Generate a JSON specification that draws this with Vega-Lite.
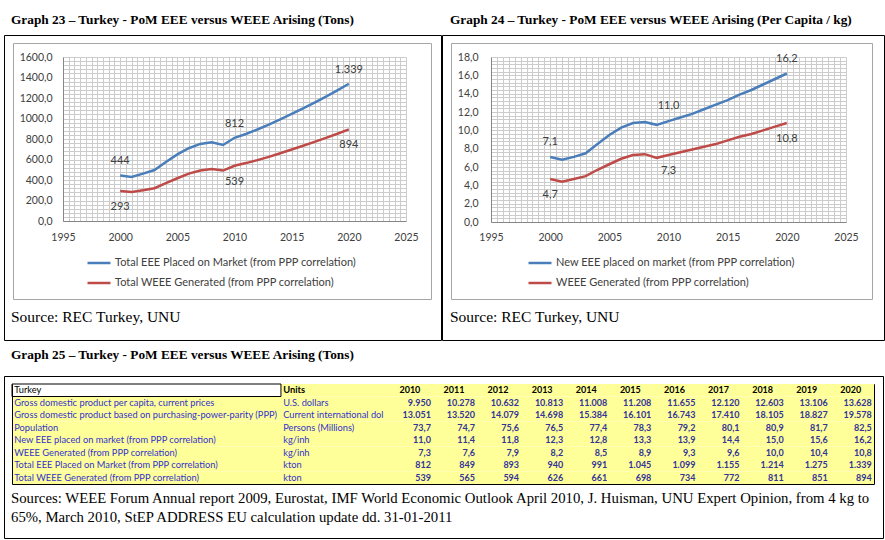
{
  "$schema": "https://vega.github.io/schema/vega-lite/v6.json",
  "background": "white",
  "padding": 3,
  "spacing": -1,
  "bounds": "full",
  "resolve": {"scale": {"color": "independent"}, "legend": {"color": "independent"}},
  "config": {
    "view": {"stroke": "#000000", "strokeWidth": 1},
    "font": "Lato",
    "locale": {"number": {"decimal": ",", "thousands": ".", "grouping": [3], "currency": ["", ""]}},
    "title": {"font": "Liberation Serif", "color": "#000000", "anchor": "start", "frame": "group", "orient": "bottom"},
    "axis": {"labelFont": "Lato", "labelColor": "#404040", "labelFontSize": 10.5, "ticks": false, "labelOverlap": false, "labelFlush": false, "labelBound": false}
  },
  "datasets": {
    "tons": [
      {"year": 2000, "eee": 444, "weee": 293},
      {"year": 2001, "eee": 430, "weee": 282},
      {"year": 2002, "eee": 462, "weee": 300},
      {"year": 2003, "eee": 497, "weee": 320},
      {"year": 2004, "eee": 575, "weee": 370},
      {"year": 2005, "eee": 650, "weee": 417},
      {"year": 2006, "eee": 710, "weee": 462},
      {"year": 2007, "eee": 752, "weee": 492},
      {"year": 2008, "eee": 768, "weee": 507},
      {"year": 2009, "eee": 742, "weee": 492},
      {"year": 2010, "eee": 812, "weee": 539},
      {"year": 2011, "eee": 849, "weee": 565},
      {"year": 2012, "eee": 893, "weee": 594},
      {"year": 2013, "eee": 940, "weee": 626},
      {"year": 2014, "eee": 991, "weee": 661},
      {"year": 2015, "eee": 1045, "weee": 698},
      {"year": 2016, "eee": 1099, "weee": 734},
      {"year": 2017, "eee": 1155, "weee": 772},
      {"year": 2018, "eee": 1214, "weee": 811},
      {"year": 2019, "eee": 1275, "weee": 851},
      {"year": 2020, "eee": 1339, "weee": 894}
    ],
    "percap": [
      {"year": 2000, "eee": 7.1, "weee": 4.7},
      {"year": 2001, "eee": 6.8, "weee": 4.4},
      {"year": 2002, "eee": 7.1, "weee": 4.7},
      {"year": 2003, "eee": 7.5, "weee": 5.0},
      {"year": 2004, "eee": 8.5, "weee": 5.7},
      {"year": 2005, "eee": 9.5, "weee": 6.3},
      {"year": 2006, "eee": 10.3, "weee": 6.9},
      {"year": 2007, "eee": 10.8, "weee": 7.3},
      {"year": 2008, "eee": 10.9, "weee": 7.4},
      {"year": 2009, "eee": 10.6, "weee": 7.0},
      {"year": 2010, "eee": 11.0, "weee": 7.3},
      {"year": 2011, "eee": 11.4, "weee": 7.6},
      {"year": 2012, "eee": 11.8, "weee": 7.9},
      {"year": 2013, "eee": 12.3, "weee": 8.2},
      {"year": 2014, "eee": 12.8, "weee": 8.5},
      {"year": 2015, "eee": 13.3, "weee": 8.9},
      {"year": 2016, "eee": 13.9, "weee": 9.3},
      {"year": 2017, "eee": 14.4, "weee": 9.6},
      {"year": 2018, "eee": 15.0, "weee": 10.0},
      {"year": 2019, "eee": 15.6, "weee": 10.4},
      {"year": 2020, "eee": 16.2, "weee": 10.8}
    ],
    "rows": [
      {"key": "T", "indicator": "Turkey", "unit": "Units"},
      {"key": "GDPPC", "indicator": "Gross domestic product per capita, current prices", "unit": "U.S. dollars"},
      {"key": "GDPPPP", "indicator": "Gross domestic product based on purchasing-power-parity (PPP)", "unit": "Current international dol"},
      {"key": "POP", "indicator": "Population", "unit": "Persons (Millions)"},
      {"key": "NEEE", "indicator": "New EEE placed on market (from PPP correlation)", "unit": "kg/inh"},
      {"key": "WEEE", "indicator": "WEEE Generated (from PPP correlation)", "unit": "kg/inh"},
      {"key": "TEEE", "indicator": "Total EEE Placed on Market (from PPP correlation)", "unit": "kton"},
      {"key": "TWEEE", "indicator": "Total WEEE Generated (from PPP correlation)", "unit": "kton"}
    ],
    "cells": [
      {"key": "T", "year": 2010, "value": "2010"}, {"key": "T", "year": 2011, "value": "2011"}, {"key": "T", "year": 2012, "value": "2012"}, {"key": "T", "year": 2013, "value": "2013"}, {"key": "T", "year": 2014, "value": "2014"}, {"key": "T", "year": 2015, "value": "2015"}, {"key": "T", "year": 2016, "value": "2016"}, {"key": "T", "year": 2017, "value": "2017"}, {"key": "T", "year": 2018, "value": "2018"}, {"key": "T", "year": 2019, "value": "2019"}, {"key": "T", "year": 2020, "value": "2020"},
      {"key": "GDPPC", "year": 2010, "value": "9.950"}, {"key": "GDPPC", "year": 2011, "value": "10.278"}, {"key": "GDPPC", "year": 2012, "value": "10.632"}, {"key": "GDPPC", "year": 2013, "value": "10.813"}, {"key": "GDPPC", "year": 2014, "value": "11.008"}, {"key": "GDPPC", "year": 2015, "value": "11.208"}, {"key": "GDPPC", "year": 2016, "value": "11.655"}, {"key": "GDPPC", "year": 2017, "value": "12.120"}, {"key": "GDPPC", "year": 2018, "value": "12.603"}, {"key": "GDPPC", "year": 2019, "value": "13.106"}, {"key": "GDPPC", "year": 2020, "value": "13.628"},
      {"key": "GDPPPP", "year": 2010, "value": "13.051"}, {"key": "GDPPPP", "year": 2011, "value": "13.520"}, {"key": "GDPPPP", "year": 2012, "value": "14.079"}, {"key": "GDPPPP", "year": 2013, "value": "14.698"}, {"key": "GDPPPP", "year": 2014, "value": "15.384"}, {"key": "GDPPPP", "year": 2015, "value": "16.101"}, {"key": "GDPPPP", "year": 2016, "value": "16.743"}, {"key": "GDPPPP", "year": 2017, "value": "17.410"}, {"key": "GDPPPP", "year": 2018, "value": "18.105"}, {"key": "GDPPPP", "year": 2019, "value": "18.827"}, {"key": "GDPPPP", "year": 2020, "value": "19.578"},
      {"key": "POP", "year": 2010, "value": "73,7"}, {"key": "POP", "year": 2011, "value": "74,7"}, {"key": "POP", "year": 2012, "value": "75,6"}, {"key": "POP", "year": 2013, "value": "76,5"}, {"key": "POP", "year": 2014, "value": "77,4"}, {"key": "POP", "year": 2015, "value": "78,3"}, {"key": "POP", "year": 2016, "value": "79,2"}, {"key": "POP", "year": 2017, "value": "80,1"}, {"key": "POP", "year": 2018, "value": "80,9"}, {"key": "POP", "year": 2019, "value": "81,7"}, {"key": "POP", "year": 2020, "value": "82,5"},
      {"key": "NEEE", "year": 2010, "value": "11,0"}, {"key": "NEEE", "year": 2011, "value": "11,4"}, {"key": "NEEE", "year": 2012, "value": "11,8"}, {"key": "NEEE", "year": 2013, "value": "12,3"}, {"key": "NEEE", "year": 2014, "value": "12,8"}, {"key": "NEEE", "year": 2015, "value": "13,3"}, {"key": "NEEE", "year": 2016, "value": "13,9"}, {"key": "NEEE", "year": 2017, "value": "14,4"}, {"key": "NEEE", "year": 2018, "value": "15,0"}, {"key": "NEEE", "year": 2019, "value": "15,6"}, {"key": "NEEE", "year": 2020, "value": "16,2"},
      {"key": "WEEE", "year": 2010, "value": "7,3"}, {"key": "WEEE", "year": 2011, "value": "7,6"}, {"key": "WEEE", "year": 2012, "value": "7,9"}, {"key": "WEEE", "year": 2013, "value": "8,2"}, {"key": "WEEE", "year": 2014, "value": "8,5"}, {"key": "WEEE", "year": 2015, "value": "8,9"}, {"key": "WEEE", "year": 2016, "value": "9,3"}, {"key": "WEEE", "year": 2017, "value": "9,6"}, {"key": "WEEE", "year": 2018, "value": "10,0"}, {"key": "WEEE", "year": 2019, "value": "10,4"}, {"key": "WEEE", "year": 2020, "value": "10,8"},
      {"key": "TEEE", "year": 2010, "value": "812"}, {"key": "TEEE", "year": 2011, "value": "849"}, {"key": "TEEE", "year": 2012, "value": "893"}, {"key": "TEEE", "year": 2013, "value": "940"}, {"key": "TEEE", "year": 2014, "value": "991"}, {"key": "TEEE", "year": 2015, "value": "1.045"}, {"key": "TEEE", "year": 2016, "value": "1.099"}, {"key": "TEEE", "year": 2017, "value": "1.155"}, {"key": "TEEE", "year": 2018, "value": "1.214"}, {"key": "TEEE", "year": 2019, "value": "1.275"}, {"key": "TEEE", "year": 2020, "value": "1.339"},
      {"key": "TWEEE", "year": 2010, "value": "539"}, {"key": "TWEEE", "year": 2011, "value": "565"}, {"key": "TWEEE", "year": 2012, "value": "594"}, {"key": "TWEEE", "year": 2013, "value": "626"}, {"key": "TWEEE", "year": 2014, "value": "661"}, {"key": "TWEEE", "year": 2015, "value": "698"}, {"key": "TWEEE", "year": 2016, "value": "734"}, {"key": "TWEEE", "year": 2017, "value": "772"}, {"key": "TWEEE", "year": 2018, "value": "811"}, {"key": "TWEEE", "year": 2019, "value": "851"}, {"key": "TWEEE", "year": 2020, "value": "894"}
    ]
  },
  "vconcat": [
    {
      "spacing": -1,
      "bounds": "full",
      "resolve": {"scale": {"color": "independent"}, "legend": {"color": "independent"}},
      "hconcat": [
        {
          "spacing": -1,
          "bounds": "full",
          "resolve": {"scale": {"color": "independent"}, "legend": {"color": "independent"}},
          "vconcat": [
            {
              "width": 437, "height": 32,
              "data": {"values": []},
              "mark": "rule",
              "encoding": {},
              "title": {"text": "Graph 23 – Turkey - PoM EEE versus WEEE Arising (Tons)", "offset": -22, "dx": 7, "fontSize": 13.3, "fontWeight": "bold"}
            },
            {
              "width": 437, "height": 305,
              "title": {"text": "Source: REC Turkey, UNU", "offset": -30, "dx": 7, "fontSize": 15.5, "fontWeight": "normal"},
              "layer": [
                {
                  "data": {"name": "tons"},
                  "layer": [
                    {
                      "mark": {"type": "line", "strokeWidth": 2.5},
                      "encoding": {
                        "x": {"field": "year", "type": "quantitative",
                          "scale": {"domain": [1995, 2025], "range": [59, 402], "nice": false, "zero": false},
                          "axis": {"orient": "top", "offset": -186, "values": [1995,1995.5,1996,1996.5,1997,1997.5,1998,1998.5,1999,1999.5,2000,2000.5,2001,2001.5,2002,2002.5,2003,2003.5,2004,2004.5,2005,2005.5,2006,2006.5,2007,2007.5,2008,2008.5,2009,2009.5,2010,2010.5,2011,2011.5,2012,2012.5,2013,2013.5,2014,2014.5,2015,2015.5,2016,2016.5,2017,2017.5,2018,2018.5,2019,2019.5,2020,2020.5,2021,2021.5,2022,2022.5,2023,2023.5,2024,2024.5,2025], "grid": true, "gridColor": "#cccccc", "domain": false, "labels": false, "ticks": false, "title": null}},
                        "y": {"field": "eee", "type": "quantitative",
                          "scale": {"domain": [0, 1600], "range": [186, 22], "nice": false, "zero": false},
                          "axis": {"orient": "left", "offset": -59, "values": [0,40,80,120,160,200,240,280,320,360,400,440,480,520,560,600,640,680,720,760,800,840,880,920,960,1000,1040,1080,1120,1160,1200,1240,1280,1320,1360,1400,1440,1480,1520,1560,1600], "grid": true, "gridColor": "#cccccc", "domain": false, "labels": false, "ticks": false, "title": null}},
                        "color": {"datum": "Total EEE Placed on Market (from PPP correlation)", "type": "nominal",
                          "scale": {"domain": ["Total EEE Placed on Market (from PPP correlation)", "Total WEEE Generated (from PPP correlation)"], "range": ["#4a7ebb", "#be4b48"]},
                          "legend": {"orient": "none", "legendX": 82, "legendY": 215, "direction": "vertical", "title": null, "symbolType": "stroke", "symbolSize": 529, "symbolStrokeWidth": 2.5, "labelFont": "Lato", "labelFontSize": 11, "labelColor": "#404040", "labelOffset": 3, "rowPadding": 2, "labelLimit": 400}}
                      }
                    },
                    {
                      "mark": {"type": "line", "strokeWidth": 2.5},
                      "encoding": {
                        "x": {"field": "year", "type": "quantitative", "axis": null},
                        "y": {"field": "weee", "type": "quantitative",
                          "axis": {"orient": "left", "offset": -59, "values": [0,200,400,600,800,1000,1200,1400,1600], "format": ".1f", "grid": false, "domain": true, "domainColor": "#868686", "ticks": false, "labelPadding": 11, "title": null}},
                        "color": {"datum": "Total WEEE Generated (from PPP correlation)", "type": "nominal"}
                      }
                    },
                    {
                      "transform": [{"filter": {"field": "year", "oneOf": [2000, 2010, 2020]}}],
                      "mark": {"type": "text", "dy": -14, "fontSize": 11, "color": "#404040", "font": "Lato"},
                      "encoding": {
                        "x": {"field": "year", "type": "quantitative",
                          "axis": {"orient": "bottom", "offset": -119, "values": [1995, 2000, 2005, 2010, 2015, 2020, 2025], "format": "d", "grid": false, "domain": true, "domainColor": "#868686", "ticks": false, "labelPadding": 11, "title": null}},
                        "y": {"field": "eee", "type": "quantitative", "axis": null},
                        "text": {"field": "eee", "type": "quantitative", "format": ",d"}
                      }
                    },
                    {
                      "transform": [{"filter": {"field": "year", "oneOf": [2000, 2010, 2020]}}],
                      "mark": {"type": "text", "dy": 16, "fontSize": 11, "color": "#404040", "font": "Lato"},
                      "encoding": {
                        "x": {"field": "year", "type": "quantitative", "axis": null},
                        "y": {"field": "weee", "type": "quantitative", "axis": null},
                        "text": {"field": "weee", "type": "quantitative", "format": ",d"}
                      }
                    }
                  ],
                  "resolve": {"axis": {"x": "independent", "y": "independent"}}
                },
                {
                  "data": {"values": [{}]},
                  "layer": [
                    {
                      "mark": {"type": "point", "opacity": 0},
                      "encoding": {
                        "x": {"datum": 0, "type": "quantitative", "scale": {"domain": [0, 1], "range": [9, 427], "nice": false}, "axis": {"orient": "top", "offset": -8, "domain": true, "domainColor": "#a6a6a6", "labels": false, "ticks": false, "grid": false, "title": null}},
                        "y": {"datum": 0, "type": "quantitative", "scale": {"domain": [0, 1], "range": [264, 8], "nice": false}, "axis": {"orient": "left", "offset": -9, "domain": true, "domainColor": "#a6a6a6", "labels": false, "ticks": false, "grid": false, "title": null}}
                      }
                    },
                    {
                      "mark": {"type": "point", "opacity": 0},
                      "encoding": {
                        "x": {"datum": 0, "type": "quantitative", "axis": {"orient": "bottom", "offset": -41, "domain": true, "domainColor": "#a6a6a6", "labels": false, "ticks": false, "grid": false, "title": null}},
                        "y": {"datum": 0, "type": "quantitative", "axis": {"orient": "right", "offset": -10, "domain": true, "domainColor": "#a6a6a6", "labels": false, "ticks": false, "grid": false, "title": null}}
                      }
                    }
                  ],
                  "resolve": {"axis": {"x": "independent", "y": "independent"}}
                }
              ],
              "resolve": {"scale": {"x": "independent", "y": "independent"}}
            }
          ]
        },
        {
          "spacing": -1,
          "bounds": "full",
          "resolve": {"scale": {"color": "independent"}, "legend": {"color": "independent"}},
          "vconcat": [
            {
              "width": 442, "height": 32,
              "data": {"values": []},
              "mark": "rule",
              "encoding": {},
              "title": {"text": "Graph 24 – Turkey - PoM EEE versus WEEE Arising (Per Capita / kg)", "offset": -22, "dx": 8, "fontSize": 13.3, "fontWeight": "bold"}
            },
            {
              "width": 442, "height": 305,
              "title": {"text": "Source: REC Turkey, UNU", "offset": -30, "dx": 8, "fontSize": 15.5, "fontWeight": "normal"},
              "layer": [
                {
                  "data": {"name": "percap"},
                  "layer": [
                    {
                      "mark": {"type": "line", "strokeWidth": 2.5},
                      "encoding": {
                        "x": {"field": "year", "type": "quantitative",
                          "scale": {"domain": [1995, 2025], "range": [49, 404], "nice": false, "zero": false},
                          "axis": {"orient": "top", "offset": -187, "values": [1995,1995.5,1996,1996.5,1997,1997.5,1998,1998.5,1999,1999.5,2000,2000.5,2001,2001.5,2002,2002.5,2003,2003.5,2004,2004.5,2005,2005.5,2006,2006.5,2007,2007.5,2008,2008.5,2009,2009.5,2010,2010.5,2011,2011.5,2012,2012.5,2013,2013.5,2014,2014.5,2015,2015.5,2016,2016.5,2017,2017.5,2018,2018.5,2019,2019.5,2020,2020.5,2021,2021.5,2022,2022.5,2023,2023.5,2024,2024.5,2025], "grid": true, "gridColor": "#cccccc", "domain": false, "labels": false, "ticks": false, "title": null}},
                        "y": {"field": "eee", "type": "quantitative",
                          "scale": {"domain": [0, 18], "range": [187, 22], "nice": false, "zero": false},
                          "axis": {"orient": "left", "offset": -49, "values": [0,0.4,0.8,1.2,1.6,2,2.4,2.8,3.2,3.6,4,4.4,4.8,5.2,5.6,6,6.4,6.8,7.2,7.6,8,8.4,8.8,9.2,9.6,10,10.4,10.8,11.2,11.6,12,12.4,12.8,13.2,13.6,14,14.4,14.8,15.2,15.6,16,16.4,16.8,17.2,17.6,18], "grid": true, "gridColor": "#cccccc", "domain": false, "labels": false, "ticks": false, "title": null}},
                        "color": {"datum": "New EEE placed on market (from PPP correlation)", "type": "nominal",
                          "scale": {"domain": ["New EEE placed on market (from PPP correlation)", "WEEE Generated (from PPP correlation)"], "range": ["#4a7ebb", "#be4b48"]},
                          "legend": {"orient": "none", "legendX": 85, "legendY": 215, "direction": "vertical", "title": null, "symbolType": "stroke", "symbolSize": 529, "symbolStrokeWidth": 2.5, "labelFont": "Lato", "labelFontSize": 11, "labelColor": "#404040", "labelOffset": 3, "rowPadding": 2, "labelLimit": 400}}
                      }
                    },
                    {
                      "mark": {"type": "line", "strokeWidth": 2.5},
                      "encoding": {
                        "x": {"field": "year", "type": "quantitative", "axis": null},
                        "y": {"field": "weee", "type": "quantitative",
                          "axis": {"orient": "left", "offset": -49, "values": [0,2,4,6,8,10,12,14,16,18], "format": ".1f", "grid": false, "domain": true, "domainColor": "#868686", "ticks": false, "labelPadding": 13, "title": null}},
                        "color": {"datum": "WEEE Generated (from PPP correlation)", "type": "nominal"}
                      }
                    },
                    {
                      "transform": [{"filter": {"field": "year", "oneOf": [2000, 2010, 2020]}}],
                      "mark": {"type": "text", "dy": -15, "fontSize": 11, "color": "#404040", "font": "Lato"},
                      "encoding": {
                        "x": {"field": "year", "type": "quantitative",
                          "axis": {"orient": "bottom", "offset": -118, "values": [1995, 2000, 2005, 2010, 2015, 2020, 2025], "format": "d", "grid": false, "domain": true, "domainColor": "#868686", "ticks": false, "labelPadding": 10, "title": null}},
                        "y": {"field": "eee", "type": "quantitative", "axis": null},
                        "text": {"field": "eee", "type": "quantitative", "format": ".1f"}
                      }
                    },
                    {
                      "transform": [{"filter": {"field": "year", "oneOf": [2000, 2010, 2020]}}],
                      "mark": {"type": "text", "dy": 16, "fontSize": 11, "color": "#404040", "font": "Lato"},
                      "encoding": {
                        "x": {"field": "year", "type": "quantitative", "axis": null},
                        "y": {"field": "weee", "type": "quantitative", "axis": null},
                        "text": {"field": "weee", "type": "quantitative", "format": ".1f"}
                      }
                    }
                  ],
                  "resolve": {"axis": {"x": "independent", "y": "independent"}}
                },
                {
                  "data": {"values": [{}]},
                  "layer": [
                    {
                      "mark": {"type": "point", "opacity": 0},
                      "encoding": {
                        "x": {"datum": 0, "type": "quantitative", "scale": {"domain": [0, 1], "range": [9, 430], "nice": false}, "axis": {"orient": "top", "offset": -8, "domain": true, "domainColor": "#a6a6a6", "labels": false, "ticks": false, "grid": false, "title": null}},
                        "y": {"datum": 0, "type": "quantitative", "scale": {"domain": [0, 1], "range": [264, 8], "nice": false}, "axis": {"orient": "left", "offset": -9, "domain": true, "domainColor": "#a6a6a6", "labels": false, "ticks": false, "grid": false, "title": null}}
                      }
                    },
                    {
                      "mark": {"type": "point", "opacity": 0},
                      "encoding": {
                        "x": {"datum": 0, "type": "quantitative", "axis": {"orient": "bottom", "offset": -41, "domain": true, "domainColor": "#a6a6a6", "labels": false, "ticks": false, "grid": false, "title": null}},
                        "y": {"datum": 0, "type": "quantitative", "axis": {"orient": "right", "offset": -12, "domain": true, "domainColor": "#a6a6a6", "labels": false, "ticks": false, "grid": false, "title": null}}
                      }
                    }
                  ],
                  "resolve": {"axis": {"x": "independent", "y": "independent"}}
                }
              ],
              "resolve": {"scale": {"x": "independent", "y": "independent"}}
            }
          ]
        }
      ]
    },
    {
      "width": 879, "height": 35,
      "data": {"values": []},
      "mark": "rule",
      "encoding": {},
      "title": {"text": "Graph 25 – Turkey - PoM EEE versus WEEE Arising (Tons)", "offset": -28, "dx": 7, "fontSize": 13.3, "fontWeight": "bold"}
    },
    {
      "width": 879, "height": 162,
      "title": {"text": ["Sources: WEEE Forum Annual report 2009, Eurostat, IMF World Economic Outlook April 2010, J. Huisman, UNU Expert Opinion, from 4 kg to", "65%, March 2010, StEP ADDRESS EU calculation update dd. 31-01-2011"], "offset": -47, "dx": 7, "fontSize": 14.75, "lineHeight": 19, "fontWeight": "normal"},
      "layer": [
        {
          "data": {"name": "rows"},
          "transform": [{"filter": "datum.key !== 'T'"}],
          "mark": {"type": "rect", "color": "#ffff99"},
          "encoding": {
            "x": {"datum": 2000.5, "type": "quantitative", "scale": {"domain": [2000.5, 2020.05], "range": [8, 870], "nice": false, "zero": false}, "axis": {"orient": "top", "offset": -8, "domain": true, "domainColor": "#000000", "labels": false, "ticks": false, "grid": false, "title": null}},
            "x2": {"datum": 2020.05},
            "y": {"field": "key", "type": "nominal", "scale": {"domain": ["T", "GDPPC", "GDPPPP", "POP", "NEEE", "WEEE", "TEEE", "TWEEE"], "range": [8, 108], "paddingInner": 0, "paddingOuter": 0}, "axis": {"orient": "left", "offset": -8, "domain": true, "domainColor": "#000000", "labels": false, "ticks": false, "grid": false, "title": null}}
          }
        },
        {
          "data": {"name": "rows"},
          "transform": [{"filter": "datum.key === 'T'"}],
          "mark": {"type": "rect", "color": "#ffff99"},
          "encoding": {
            "x": {"datum": 2006.6, "type": "quantitative", "axis": {"orient": "bottom", "offset": -54, "domain": true, "domainColor": "#000000", "labels": false, "ticks": false, "grid": false, "title": null}},
            "x2": {"datum": 2020.05},
            "y": {"field": "key", "type": "nominal", "axis": {"orient": "right", "offset": -9, "domain": true, "domainColor": "#000000", "labels": false, "ticks": false, "grid": false, "title": null}}
          }
        },
        {
          "data": {"name": "rows"},
          "transform": [{"filter": "datum.key === 'T'"}],
          "mark": {"type": "rect", "fill": "#ffffff", "stroke": "#000000", "strokeWidth": 1},
          "encoding": {
            "x": {"datum": 2000.5, "type": "quantitative", "axis": null},
            "x2": {"datum": 2006.6},
            "y": {"field": "key", "type": "nominal", "axis": null}
          }
        },
        {
          "data": {"name": "rows"},
          "mark": {"type": "text", "align": "left", "baseline": "middle", "font": "Lato", "fontSize": 9.3},
          "encoding": {
            "x": {"datum": 2000.55, "type": "quantitative", "axis": null},
            "y": {"field": "key", "type": "nominal", "axis": null},
            "text": {"field": "indicator", "type": "nominal"},
            "color": {"condition": {"test": "datum.key === 'T'", "value": "#000000"}, "value": "#3333cc"}
          }
        },
        {
          "data": {"name": "rows"},
          "transform": [{"filter": "datum.key !== 'T'"}],
          "mark": {"type": "text", "align": "left", "baseline": "middle", "font": "Lato", "fontSize": 9.3, "color": "#3333cc"},
          "encoding": {
            "x": {"datum": 2006.65, "type": "quantitative", "axis": null},
            "y": {"field": "key", "type": "nominal", "axis": null},
            "text": {"field": "unit", "type": "nominal"}
          }
        },
        {
          "data": {"name": "rows"},
          "transform": [{"filter": "datum.key === 'T'"}],
          "mark": {"type": "text", "align": "left", "baseline": "middle", "font": "Lato", "fontSize": 9.3, "fontWeight": "bold", "color": "#000000"},
          "encoding": {
            "x": {"datum": 2006.65, "type": "quantitative", "axis": null},
            "y": {"field": "key", "type": "nominal", "axis": null},
            "text": {"field": "unit", "type": "nominal"}
          }
        },
        {
          "data": {"name": "cells"},
          "transform": [{"filter": "datum.key !== 'T'"}],
          "mark": {"type": "text", "align": "right", "baseline": "middle", "font": "Lato", "fontSize": 9, "fontWeight": "bold", "color": "#333399"},
          "encoding": {
            "x": {"field": "year", "type": "quantitative", "axis": null},
            "y": {"field": "key", "type": "nominal", "axis": null},
            "text": {"field": "value", "type": "nominal"}
          }
        },
        {
          "data": {"name": "cells"},
          "transform": [{"filter": "datum.key === 'T'"}],
          "mark": {"type": "text", "align": "center", "baseline": "middle", "dx": -21, "font": "Lato", "fontSize": 9, "fontWeight": "bold", "color": "#000000"},
          "encoding": {
            "x": {"field": "year", "type": "quantitative", "axis": null},
            "y": {"field": "key", "type": "nominal", "axis": null},
            "text": {"field": "value", "type": "nominal"}
          }
        }
      ],
      "resolve": {"axis": {"x": "independent", "y": "independent"}}
    }
  ]
}
